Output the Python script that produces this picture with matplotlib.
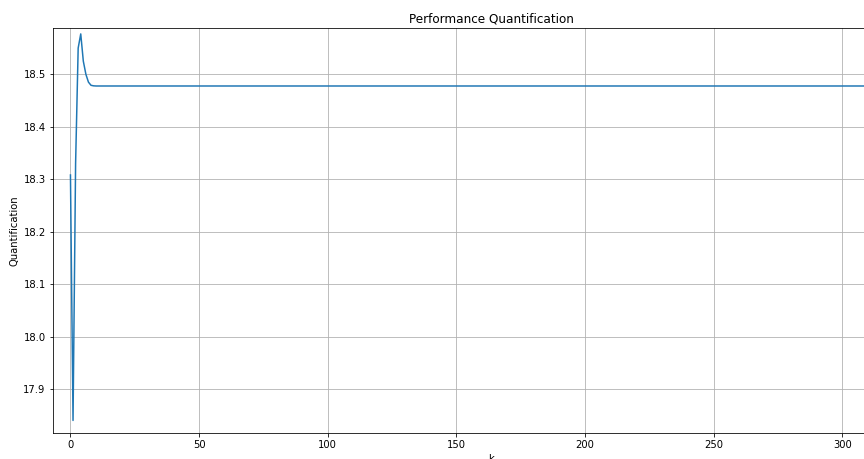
import matplotlib
matplotlib.use("Agg")
import matplotlib.pyplot as plt
import numpy as np

# Transient response of the quantification measure, followed by its steady state
transient = [18.308, 17.840, 18.330, 18.550, 18.577, 18.525, 18.500, 18.485, 18.479, 18.478]
steady_value = 18.4777
n_steps = 330
values = transient + [steady_value] * (n_steps - len(transient))
steps = np.arange(len(values))

x_ticks = [0, 50, 100, 150, 200, 250, 300]
y_ticks = [17.9, 18.0, 18.1, 18.2, 18.3, 18.4, 18.5]

W, H, DPI = 864, 459, 72
fig = plt.figure(figsize=(W / DPI, H / DPI), dpi=DPI)
ax = fig.add_axes([52.7 / W, 25.7 / H, 876.6 / W, 405 / H])

ax.plot(steps, values, color="tab:blue", linewidth=1.5)
ax.set_xlim(-6.9, 333.8)
ax.set_ylim(17.8155, 18.5877)
ax.set_xticks(x_ticks)
ax.set_yticks(y_ticks)
ax.grid(True)
ax.set_title("Performance Quantification")
ax.set_xlabel("k")
ax.set_ylabel("Quantification")

fig.savefig("out.png", dpi=DPI)
